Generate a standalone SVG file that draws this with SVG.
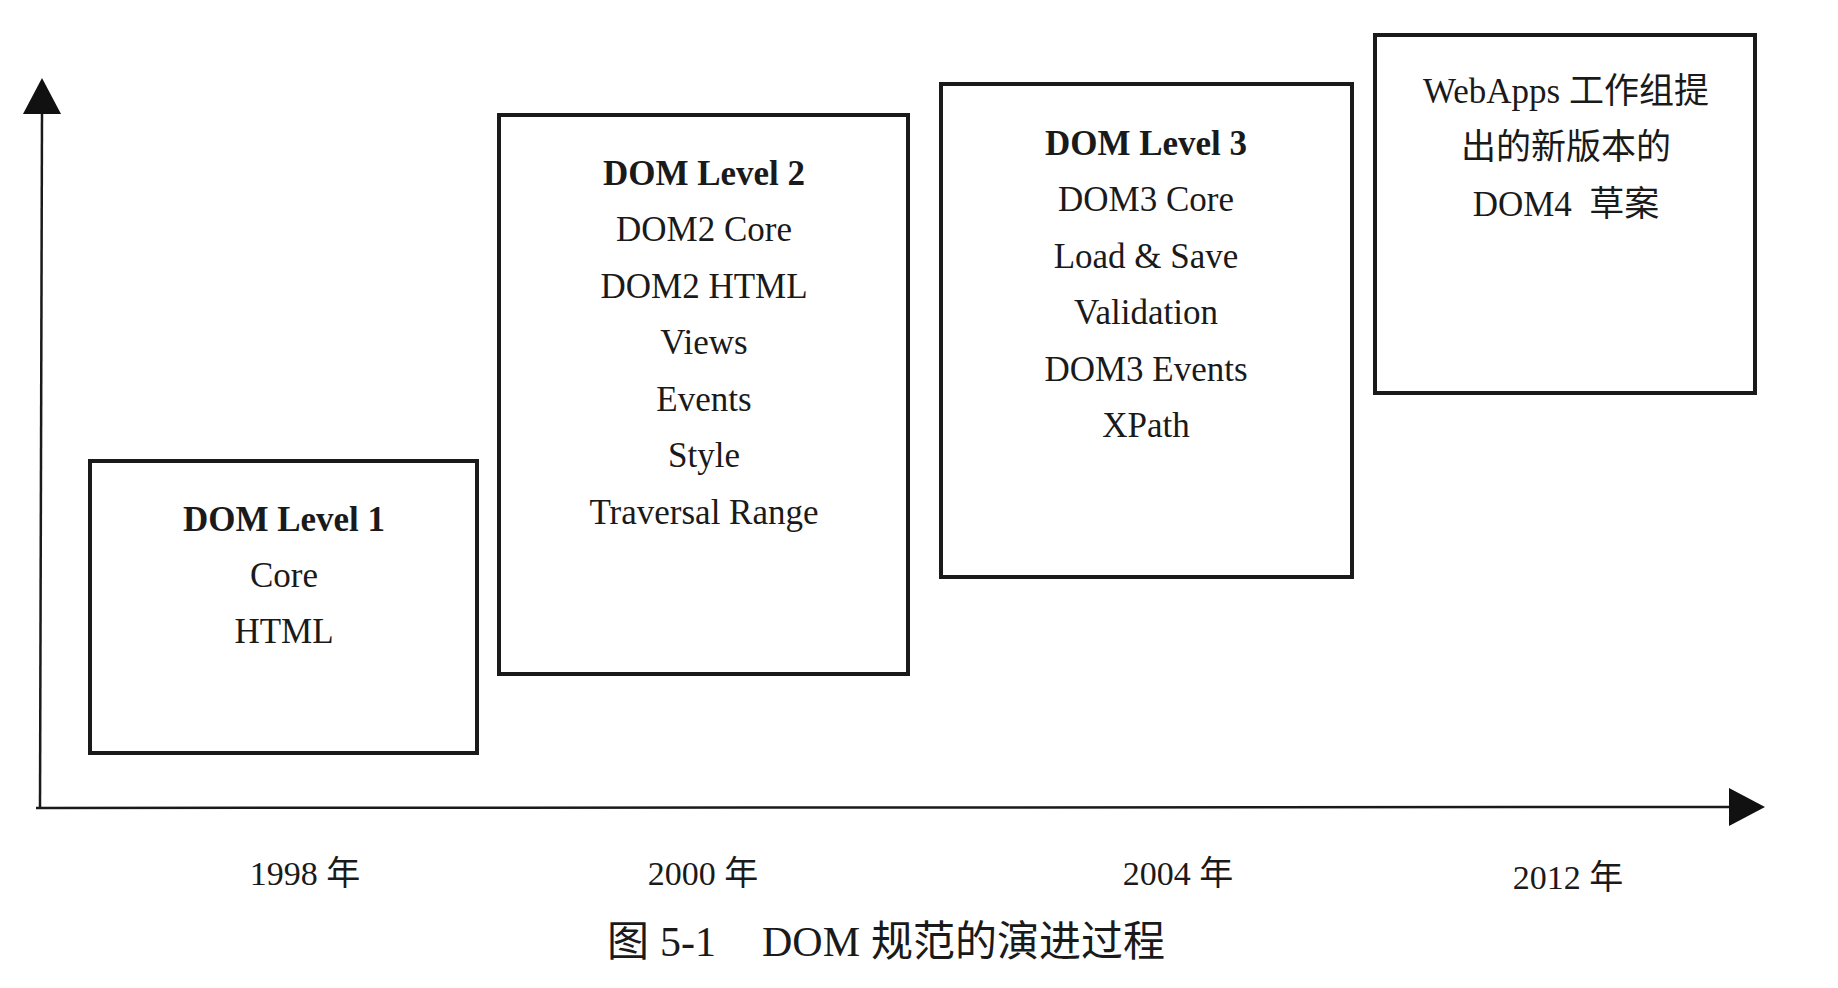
<svg xmlns="http://www.w3.org/2000/svg" width="1838" height="988" viewBox="0 0 1838 988">
<style>
  .box { fill: #fff; stroke: #1a1a1a; stroke-width: 4; }
  .t { font-family: "Liberation Serif", "Noto Sans CJK SC", serif; font-size: 35px; fill: #1a1a1a; text-anchor: middle; }
  .b { font-weight: bold; }
  .axis { stroke: #1a1a1a; stroke-width: 2.5; fill: none; }
  .head { fill: #111; }
  .yr { font-family: "Liberation Serif", "Noto Sans CJK SC", serif; font-size: 34px; fill: #1a1a1a; text-anchor: middle; }
  .cap { font-family: "Liberation Serif", "Noto Sans CJK SC", serif; font-size: 42px; fill: #1a1a1a; text-anchor: start; }
</style>
<rect width="1838" height="988" fill="#fff"/>
<g id="connectors">
  <line class="axis" x1="42" y1="112" x2="40" y2="808"/>
  <polygon class="head" points="42,78 61,114 23,114"/>
  <line class="axis" x1="36" y1="808" x2="1732" y2="807"/>
  <polygon class="head" points="1765,807 1729,788 1729,826"/>
</g>
<g id="level1">
  <rect class="box" x="90" y="461" width="387" height="292"/>
  <text class="t b" x="284" y="531">DOM Level 1</text>
  <text class="t" x="284" y="587">Core</text>
  <text class="t" x="284" y="643">HTML</text>
</g>
<g id="level2">
  <rect class="box" x="499" y="115" width="409" height="559"/>
  <text class="t b" x="704" y="185">DOM Level 2</text>
  <text class="t" x="704" y="241">DOM2 Core</text>
  <text class="t" x="704" y="298">DOM2 HTML</text>
  <text class="t" x="704" y="354">Views</text>
  <text class="t" x="704" y="411">Events</text>
  <text class="t" x="704" y="467">Style</text>
  <text class="t" x="704" y="524">Traversal Range</text>
</g>
<g id="level3">
  <rect class="box" x="941" y="84" width="411" height="493"/>
  <text class="t b" x="1146" y="155">DOM Level 3</text>
  <text class="t" x="1146" y="211">DOM3 Core</text>
  <text class="t" x="1146" y="268">Load &amp; Save</text>
  <text class="t" x="1146" y="324">Validation</text>
  <text class="t" x="1146" y="381">DOM3 Events</text>
  <text class="t" x="1146" y="437">XPath</text>
</g>
<g id="dom4">
  <rect class="box" x="1375" y="35" width="380" height="358"/>
  <text class="t" x="1566" y="103">WebApps 工作组提</text>
  <text class="t" x="1566" y="159">出的新版本的</text>
  <text class="t" x="1566" y="216" xml:space="preserve">DOM4  草案</text>
</g>
<g id="years">
  <text class="yr" x="305" y="885">1998 年</text>
  <text class="yr" x="703" y="885">2000 年</text>
  <text class="yr" x="1178" y="885">2004 年</text>
  <text class="yr" x="1568" y="889">2012 年</text>
</g>
<g id="caption">
  <text class="cap" y="956"><tspan x="607">图</tspan><tspan x="660">5-1</tspan><tspan x="762">DOM</tspan><tspan x="871">规范的演进过程</tspan></text>
</g>
</svg>
